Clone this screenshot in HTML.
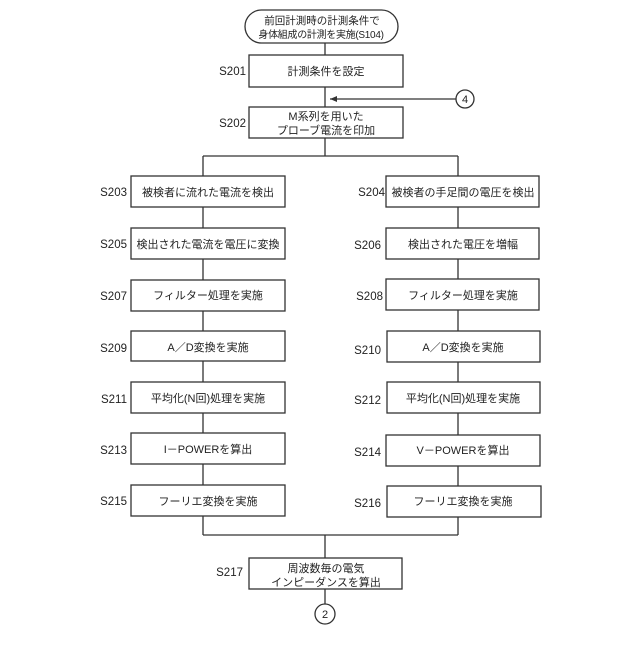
<!DOCTYPE html>
<html><head><meta charset="utf-8"><style>
html,body{margin:0;padding:0;background:#fff}
svg text{font-family:"Liberation Sans","Noto Sans CJK JP",sans-serif;fill:#222}
</style></head><body>
<svg width="640" height="640" viewBox="0 0 640 640" xmlns="http://www.w3.org/2000/svg">
<g stroke="#333" stroke-width="1.3" fill="none">
<rect x="245" y="10" width="153" height="33" rx="16.5"/>
<line x1="325" y1="43" x2="325" y2="55"/>
<rect x="249" y="55" width="154" height="32"/>
<line x1="325" y1="87" x2="325" y2="107"/>
<line x1="456" y1="99" x2="330" y2="99"/>
<circle cx="465" cy="99" r="9"/>
<rect x="249" y="107" width="154" height="31"/>
<line x1="325" y1="138" x2="325" y2="156"/>
<line x1="203" y1="156" x2="458" y2="156"/>
<line x1="203" y1="156" x2="203" y2="485"/>
<line x1="458" y1="156" x2="458" y2="486"/>
<line x1="203" y1="516" x2="203" y2="535"/>
<line x1="458" y1="517" x2="458" y2="535"/>
<line x1="203" y1="535" x2="458" y2="535"/>
<line x1="325" y1="535" x2="325" y2="558"/>
<rect x="249" y="558" width="153" height="31"/>
<line x1="325" y1="589" x2="325" y2="604"/>
<circle cx="325" cy="614" r="10"/>
</g>
<g fill="#fff" stroke="#333" stroke-width="1.3">
<rect x="131" y="176" width="154" height="31"/>
<rect x="131" y="228" width="154" height="31"/>
<rect x="131" y="280" width="154" height="31"/>
<rect x="131" y="331" width="154" height="30"/>
<rect x="131" y="382" width="154" height="31"/>
<rect x="131" y="433" width="154" height="31"/>
<rect x="131" y="485" width="154" height="31"/>
<rect x="386" y="176" width="153" height="31"/>
<rect x="386" y="228" width="153" height="31"/>
<rect x="386" y="279" width="153" height="31"/>
<rect x="387" y="331" width="153" height="31"/>
<rect x="387" y="382" width="153" height="31"/>
<rect x="386" y="435" width="154" height="31"/>
<rect x="387" y="486" width="154" height="31"/>
</g>
<path d="M330 99 l7 -3 v6 z" fill="#333"/>
<g font-size="11" text-anchor="middle">
<text x="322" y="24" font-size="10.5">前回計測時の計測条件で</text>
<text x="321" y="38" font-size="10" letter-spacing="-0.3">身体組成の計測を実施(S104)</text>
<text x="326" y="75">計測条件を設定</text>
<text x="326" y="120">M系列を用いた</text>
<text x="326" y="134">プローブ電流を印加</text>
<text x="208" y="196">被検者に流れた電流を検出</text>
<text x="208" y="248">検出された電流を電圧に変換</text>
<text x="208" y="299">フィルター処理を実施</text>
<text x="208" y="351">A／D変換を実施</text>
<text x="208" y="402">平均化(N回)処理を実施</text>
<text x="208" y="453">I－POWERを算出</text>
<text x="208" y="505">フーリエ変換を実施</text>
<text x="463" y="196">被検者の手足間の電圧を検出</text>
<text x="463" y="248">検出された電圧を増幅</text>
<text x="463" y="299">フィルター処理を実施</text>
<text x="463" y="351">A／D変換を実施</text>
<text x="463" y="402">平均化(N回)処理を実施</text>
<text x="463" y="454">V－POWERを算出</text>
<text x="463" y="505">フーリエ変換を実施</text>
<text x="326" y="572">周波数毎の電気</text>
<text x="326" y="586">インピーダンスを算出</text>
<text x="465" y="103">4</text>
<text x="325" y="618">2</text>
</g>
<g font-size="11.5" text-anchor="end">
<text x="246" y="75">S201</text>
<text x="246" y="127">S202</text>
<text x="127" y="196">S203</text>
<text x="385" y="196">S204</text>
<text x="127" y="248">S205</text>
<text x="381" y="249">S206</text>
<text x="127" y="300">S207</text>
<text x="383" y="300">S208</text>
<text x="127" y="352">S209</text>
<text x="381" y="354">S210</text>
<text x="127" y="403">S211</text>
<text x="381" y="404">S212</text>
<text x="127" y="454">S213</text>
<text x="381" y="456">S214</text>
<text x="127" y="505">S215</text>
<text x="381" y="507">S216</text>
<text x="243" y="576">S217</text>
</g>
</svg>
</body></html>
